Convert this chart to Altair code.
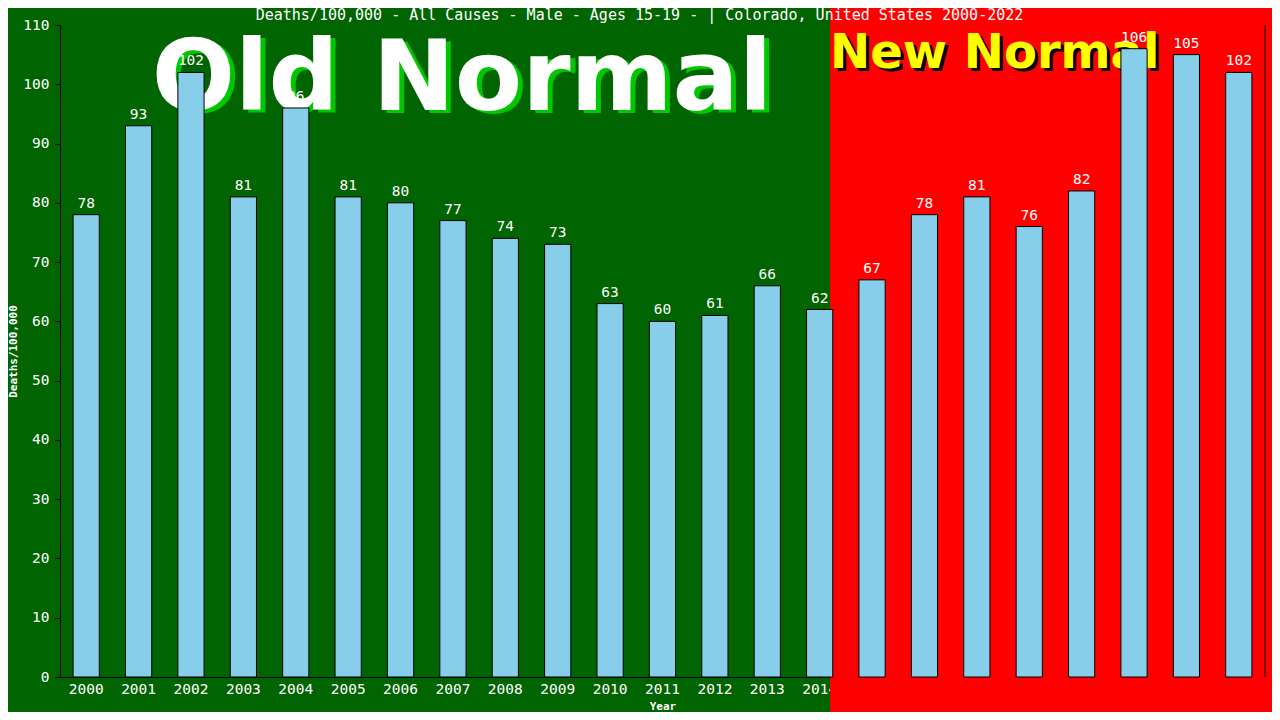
import altair as alt
import pandas as pd

years = [str(y) for y in range(2000, 2023)]
values = [78, 93, 102, 81, 96, 81, 80, 77, 74, 73, 63, 60, 61, 66, 62, 67, 78, 81, 76, 82, 106, 105, 102]
title_text = "Deaths/100,000 - All Causes - Male - Ages 15-19 -  | Colorado, United States 2000-2022"
y_ticks = list(range(0, 111, 10))

W, H = 1205, 652
MONO = "DejaVu Sans Mono"

df = pd.DataFrame({"Year": years, "value": values})
one = pd.DataFrame({"k": [0]})

x_enc = alt.X("Year:N", sort=years,
              scale=alt.Scale(paddingInner=0.5, paddingOuter=0.25),
              axis=alt.Axis(labelAngle=0, ticks=False, tickSize=0, labelPadding=5,
                            title="Year", titlePadding=5))
y_enc = alt.Y("value:Q", scale=alt.Scale(domain=[0, 110], nice=False),
              axis=alt.Axis(values=y_ticks, tickSize=5, labelPadding=6, grid=False,
                            title="Deaths/100,000", titlePadding=4))

red = alt.Chart(one).mark_rect(color="#ff0000").encode(
    x=alt.value(770), x2=alt.value(1230), y=alt.value(-17), y2=alt.value(720))

old_sh = alt.Chart(pd.DataFrame({"t": ["Old Normal"]})).mark_text(
    font="DejaVu Sans", fontWeight="bold", fontSize=98, color="#00c800",
    align="center", baseline="alphabetic").encode(
    x=alt.value(407), y=alt.value(88), text="t:N")
old = alt.Chart(pd.DataFrame({"t": ["Old Normal"]})).mark_text(
    font="DejaVu Sans", fontWeight="bold", fontSize=98, color="#ffffff",
    align="center", baseline="alphabetic").encode(
    x=alt.value(402), y=alt.value(85), text="t:N")
new_sh = alt.Chart(pd.DataFrame({"t": ["New Normal"]})).mark_text(
    font="DejaVu Sans", fontWeight="bold", fontSize=48, color="#000000",
    align="left", baseline="alphabetic").encode(
    x=alt.value(773), y=alt.value(46), text="t:N")
new = alt.Chart(pd.DataFrame({"t": ["New Normal"]})).mark_text(
    font="DejaVu Sans", fontWeight="bold", fontSize=48, color="#ffff00",
    align="left", baseline="alphabetic").encode(
    x=alt.value(770), y=alt.value(43), text="t:N")

bars = alt.Chart(df).mark_bar(color="#87ceeb", stroke="#000000", strokeWidth=1).encode(
    x=x_enc, y=y_enc)
labels = alt.Chart(df).mark_text(font=MONO, fontSize=14.5, color="#ffffff",
                                 baseline="alphabetic", dy=-7).encode(
    x=alt.X("Year:N", sort=years), y="value:Q", text="value:Q")

border = alt.Chart(one).mark_rule(color="#000000", strokeWidth=1).encode(
    x=alt.value(W), y=alt.value(0), y2=alt.value(H))

chart = alt.layer(red, old_sh, old, new_sh, new, bars, labels, border).properties(
    width=W, height=H,
    padding={"left": 52, "top": 17, "right": 7, "bottom": 35},
    autosize=alt.AutoSizeParams(type="none"),
    background="#006400",
    title=alt.TitleParams(title_text, color="#ffffff", font=MONO, fontSize=15,
                          fontWeight="normal", anchor="middle", dx=-23, offset=0,
                          baseline="bottom", dy=30),
).configure_view(stroke=None).configure_axis(
    domainColor="#000000", tickColor="#000000", labelColor="#ffffff",
    labelFont=MONO, labelFontSize=14.5, titleColor="#ffffff", titleFont=MONO,
    titleFontSize=11, titleFontWeight="bold")

chart.save("out.html", embed_options={"renderer": "svg", "actions": False})
